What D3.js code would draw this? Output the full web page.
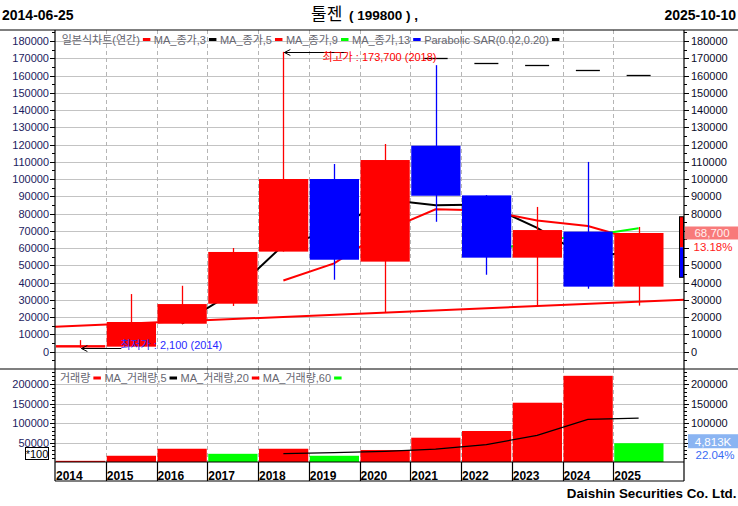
<!DOCTYPE html>
<html><head><meta charset="utf-8">
<script src="https://cdn.jsdelivr.net/npm/d3@7"></script>
<style>
html,body{margin:0;padding:0;background:#fff;}
svg{display:block;}
text{font-family:"Liberation Sans",Arial,"Noto Sans CJK KR",sans-serif;}
</style></head><body>
<svg id="c" width="738" height="506"></svg>
<script>
// ---------- data ----------
const years = [2014,2015,2016,2017,2018,2019,2020,2021,2022,2023,2024,2025];
const openP  = [2300, 2800, 16100, 27700, 57900, 100000, 52100, 119300, 90500, 54400, 69500, 37600];
const closeP = [3700, 17100, 27500, 57700, 100000, 53200, 111000, 90300, 54400, 70400, 37600, 68700];
const highP  = [6600, 33300, 38100, 60000, 173700, 108700, 120300, 166000, 90700, 83800, 109900, 72200];
const lowP   = [2100, 2800, 16000, 26400, 57900, 41600, 22500, 75200, 44500, 26400, 36400, 26600];
const ma3  = [null, null, 16100, 34100, 61700, 70300, 88100, 84800, 85200, 71700, 54100, 58900];
const ma5  = [null, null, null, null, 41200, 51100, 69900, 82400, 81800, 75900, 72700, 64300];
const ma9  = [null, null, null, null, null, null, null, null, 57200, 64600, 66900, 71500];
const sar  = [null, null, null, null, null, null, null, 170000, 167100, 165900, 163000, 160300];
const trendLine = [14400, 30000];           // long red line, left edge -> right edge
const sideBar = [78100, 60400, 43000];      // right-edge marker: red top, split, blue bottom
const volume = [3000, 16000, 34000, 21000, 34000, 16000, 30800, 62300, 79500, 152000, 221000, 48130];
const volUp  = [true, true, true, false, true, false, true, true, true, true, true, false];
const volMa5 = [null, null, null, null, 21600, 24200, 27200, 32800, 44500, 68100, 109100, 112600];
const priceTicks = d3.range(0, 190000, 10000);
const priceMinor = d3.range(-5000, 190000, 5000);
const volTicks = [50000, 100000, 150000, 200000];
const volMinor = d3.range(10000, 240000, 10000);
const priceLegend = ["일본식차트(연간)","MA_종가,3","MA_종가,5","MA_종가,9","MA_종가,13","Parabolic SAR(0.02,0.20)"];
const priceLegendColors = ["#ff0000","#000000","#ff0000","#00ff00","#0000ff","#000000"];
const volLegend = ["거래량","MA_거래량,5","MA_거래량,20","MA_거래량,60"];
const volLegendColors = ["#ff0000","#000000","#ff0000","#00ff00"];
const startDate = "2014-06-25", endDate = "2025-10-10";
const titleName = "툴젠", titleCode = " ( 199800 ) ,";
const highLabel = "최고가 : 173,700 (2018)", lowLabel = "최저가 : 2,100 (2014)";
const lastPrice = "68,700", lastPct = "13.18%", lastVol = "4,813K", volPct = "22.04%";
const volUnit = "*100", footer = "Daishin Securities Co. Ltd.";

// ---------- layout ----------
const svg = d3.select("#c");
const L = 55, R = 684, TOP = 30, MID = 369, VB = 462, XB = 481;
const x = d3.scaleBand().domain(years).range([55, 664]).paddingInner(0);
const bw = x.bandwidth();
const cx = (i) => x(years[i]) + bw / 2;
const yP = d3.scaleLinear().domain([0, 180000]).range([351.5, 41]);
const yV = d3.scaleLinear().domain([0, 200000]).range([462, 384]);

svg.append("defs").append("clipPath").attr("id","cp").append("rect")
  .attr("x", L).attr("y", TOP).attr("width", R - L).attr("height", MID - TOP);

const grid = svg.append("g");
priceTicks.forEach(v => grid.append("line").attr("x1", L).attr("x2", R)
  .attr("y1", Math.round(yP(v))+0.5).attr("y2", Math.round(yP(v))+0.5).attr("stroke", "#c3c3c3"));
volTicks.forEach(v => grid.append("line").attr("x1", L).attr("x2", R)
  .attr("y1", Math.round(yV(v))+0.5).attr("y2", Math.round(yV(v))+0.5).attr("stroke", "#c3c3c3"));
years.slice(1).forEach(yr => {
  const xx = Math.round(x(yr)) + 0.5;
  grid.append("line").attr("x1", xx).attr("x2", xx).attr("y1", TOP).attr("y2", MID)
    .attr("stroke", "#b5b5b5").attr("stroke-dasharray", "4,3");
  grid.append("line").attr("x1", xx).attr("x2", xx).attr("y1", MID).attr("y2", VB)
    .attr("stroke", "#b5b5b5").attr("stroke-dasharray", "4,3");
});

const plot = svg.append("g").attr("clip-path", "url(#cp)");
// trend line
plot.append("line").attr("x1", L).attr("x2", R).attr("y1", yP(trendLine[0])).attr("y2", yP(trendLine[1]))
  .attr("stroke", "#ff0000").attr("stroke-width", 2);
// MA lines
const maLine = d3.line().defined(d => d != null).x((d, i) => cx(i)).y(d => yP(d));
[[ma3, "#000000"], [ma5, "#ff0000"], [ma9, "#00ff00"]].forEach(([arr, col]) => {
  plot.append("path").attr("d", maLine(arr)).attr("fill", "none").attr("stroke", col).attr("stroke-width", 2);
});
// SAR dashes
sar.forEach((v, i) => {
  if (v == null) return;
  plot.append("line").attr("x1", cx(i) - 12).attr("x2", cx(i) + 12)
    .attr("y1", Math.round(yP(v)) + 0.5).attr("y2", Math.round(yP(v)) + 0.5).attr("stroke", "#000").attr("stroke-width", 1.3);
});
// candles
years.forEach((yr, i) => {
  const up = closeP[i] >= openP[i];
  const col = up ? "#ff0000" : "#0000ff";
  const xc = Math.round(cx(i)) + 0.5;
  plot.append("line").attr("x1", xc).attr("x2", xc).attr("y1", yP(highP[i])).attr("y2", yP(lowP[i]))
    .attr("stroke", col).attr("stroke-width", 1.3);
  const top = yP(Math.max(openP[i], closeP[i])), bot = yP(Math.min(openP[i], closeP[i]));
  plot.append("rect").attr("x", x(yr) + 1).attr("width", bw - 1.5)
    .attr("y", top).attr("height", Math.max(2, bot - top)).attr("fill", col);
});
// side marker
plot.append("rect").attr("x", 679.5).attr("width", 4).attr("y", yP(sideBar[0])).attr("height", yP(sideBar[1]) - yP(sideBar[0])).attr("fill", "#ff0000");
plot.append("rect").attr("x", 679.5).attr("width", 4).attr("y", yP(sideBar[1])).attr("height", yP(sideBar[2]) - yP(sideBar[1])).attr("fill", "#0000ff");
plot.append("rect").attr("x", 679.5).attr("width", 4).attr("y", yP(sideBar[0])).attr("height", yP(sideBar[2]) - yP(sideBar[0]))
  .attr("fill", "none").attr("stroke", "#000").attr("stroke-width", 1);

// annotations
function arrowAnn(i, val, len, label, color, tx, ty) {
  const y0 = Math.round(yP(val)) + 0.5, x0 = cx(i) + 1;
  plot.append("line").attr("x1", x0).attr("x2", x0 + len).attr("y1", y0).attr("y2", y0).attr("stroke", "#000");
  plot.append("path").attr("d", `M${x0 + 6},${y0 - 3} L${x0},${y0} L${x0 + 6},${y0 + 3}`).attr("fill", "none").attr("stroke", "#000");
  svg.append("text").attr("x", x0 + tx).attr("y", y0 + ty).attr("font-size", 11).attr("fill", color).text(label);
}
const iMax = highP.indexOf(d3.max(highP)), iMin = lowP.indexOf(d3.min(lowP));
arrowAnn(iMax, highP[iMax], 62, highLabel, "#ff0000", 38, 8);
arrowAnn(iMin, lowP[iMin], 40, lowLabel, "#2a2aff", 39, 0);

// volume bars
years.forEach((yr, i) => {
  svg.append("rect").attr("x", x(yr) + 1).attr("width", bw - 1.5)
    .attr("y", yV(volume[i])).attr("height", yV(0) - yV(volume[i]))
    .attr("fill", volUp[i] ? "#ff0000" : "#00ff00");
});
const vLine = d3.line().defined(d => d != null).x((d, i) => cx(i)).y(d => yV(d));
svg.append("path").attr("d", vLine(volMa5)).attr("fill", "none").attr("stroke", "#000").attr("stroke-width", 1.2);

// legends
function legend(labels, colors, x0, yc) {
  let xx = x0;
  labels.forEach((lab, k) => {
    const t = svg.append("text").attr("x", xx).attr("y", yc + 4).attr("font-size", 11).attr("fill", "#666670").text(lab);
    xx += t.node().getComputedTextLength() + 3;
    svg.append("rect").attr("x", xx).attr("y", yc - 1.5).attr("width", 7.5).attr("height", 3).attr("fill", colors[k]);
    xx += 11;
  });
}
legend(priceLegend, priceLegendColors, 61.7, 39.5);
legend(volLegend, volLegendColors, 60, 378);

// frame lines
const fr = svg.append("g").attr("stroke", "#000").attr("stroke-width", 1.2);
fr.append("line").attr("x1", 0).attr("x2", 738).attr("y1", TOP).attr("y2", TOP);
fr.append("line").attr("x1", 0).attr("x2", 738).attr("y1", MID).attr("y2", MID);
fr.append("line").attr("x1", L).attr("x2", R).attr("y1", VB).attr("y2", VB);
fr.append("line").attr("x1", L).attr("x2", R).attr("y1", XB).attr("y2", XB);
fr.append("line").attr("x1", L).attr("x2", L).attr("y1", TOP).attr("y2", XB);
fr.append("line").attr("x1", R).attr("x2", R).attr("y1", TOP).attr("y2", XB);
years.slice(1).forEach(yr => fr.append("line").attr("x1", Math.round(x(yr)) + 0.5).attr("x2", Math.round(x(yr)) + 0.5).attr("y1", VB).attr("y2", XB));

// right-side value box regions (labels under them are hidden, as in the reference)
const pBoxTop = yP(closeP[11]) - 6.5, pBoxBot = yP(closeP[11]) + 21;
const vBoxTop = yV(volume[11]) - 9, vBoxBot = yV(volume[11]) + 20;

// axes ticks & labels
const ax = svg.append("g");
priceMinor.forEach(v => {
  const yy = Math.round(yP(v)) + 0.5;
  const major = v % 10000 === 0 && v >= 0;
  ax.append("line").attr("x1", L - (major ? 5 : 3)).attr("x2", L).attr("y1", yy).attr("y2", yy).attr("stroke", "#000");
  ax.append("line").attr("x1", R).attr("x2", R + (major ? 5 : 3)).attr("y1", yy).attr("y2", yy).attr("stroke", "#000");
});
priceTicks.forEach(v => {
  ax.append("text").attr("x", 49).attr("y", yP(v) + 4).attr("text-anchor", "end").attr("font-size", 11).attr("fill", "#1c1c60").text(v);
  const yy = yP(v);
  if (yy + 5 > pBoxTop && yy - 5 < pBoxBot) return;
  ax.append("text").attr("x", 691).attr("y", yy + 4).attr("font-size", 11).attr("fill", "#0b0b28").text(v);
});
volMinor.forEach(v => {
  const yy = Math.round(yV(v)) + 0.5;
  const major = v % 50000 === 0;
  if (yy < MID) return;
  ax.append("line").attr("x1", L - (major ? 5 : 3)).attr("x2", L).attr("y1", yy).attr("y2", yy).attr("stroke", "#000");
  ax.append("line").attr("x1", R).attr("x2", R + (major ? 5 : 3)).attr("y1", yy).attr("y2", yy).attr("stroke", "#000");
});
volTicks.forEach(v => {
  ax.append("text").attr("x", 49).attr("y", yV(v) + 4).attr("text-anchor", "end").attr("font-size", 11).attr("fill", "#1c1c60").text(v);
  const yy = yV(v);
  if (yy + 5 > vBoxTop && yy - 5 < vBoxBot) return;
  ax.append("text").attr("x", 691).attr("y", yy + 4).attr("font-size", 11).attr("fill", "#0b0b28").text(v);
});
// *100 box
svg.append("rect").attr("x", 25.5).attr("y", 447.5).attr("width", 23).attr("height", 12).attr("fill", "#fff").attr("stroke", "#000");
svg.append("text").attr("x", 37).attr("y", 457.5).attr("text-anchor", "middle").attr("font-size", 11).attr("fill", "#000").text(volUnit);

// year labels
years.forEach(yr => svg.append("text").attr("x", x(yr) + 1).attr("y", 479.5).attr("font-size", 12).attr("font-weight", "bold").attr("fill", "#000").text(yr));

// right-side value boxes
svg.append("rect").attr("x", 685).attr("y", pBoxTop).attr("width", 53).attr("height", 13).attr("fill", "#f87a7a");
svg.append("text").attr("x", 712).attr("y", yP(closeP[11]) + 4).attr("text-anchor", "middle").attr("font-size", 11.5).attr("fill", "#fff0f0").text(lastPrice);
svg.append("text").attr("x", 713).attr("y", yP(closeP[11]) + 18.5).attr("text-anchor", "middle").attr("font-size", 11.5).attr("fill", "#ff2020").text(lastPct);
svg.append("rect").attr("x", 688).attr("y", vBoxTop).attr("width", 50).attr("height", 14).attr("fill", "#8ab4f2");
svg.append("text").attr("x", 713).attr("y", yV(volume[11]) + 2.5).attr("text-anchor", "middle").attr("font-size", 11.5).attr("fill", "#fff").text(lastVol);
svg.append("text").attr("x", 715).attr("y", yV(volume[11]) + 16).attr("text-anchor", "middle").attr("font-size", 11.5).attr("fill", "#3a6cf4").text(volPct);

// header
svg.append("text").attr("x", 2).attr("y", 20).attr("font-size", 14).attr("font-weight", "bold").text(startDate);
svg.append("text").attr("x", 736).attr("y", 20).attr("text-anchor", "end").attr("font-size", 14).attr("font-weight", "bold").text(endDate);
svg.append("text").attr("x", 311).attr("y", 20).attr("font-size", 17).attr("font-family", "Noto Sans CJK KR").text(titleName);
svg.append("text").attr("x", 349).attr("y", 20).attr("font-size", 13.5).attr("font-weight", "bold").text(titleCode);
// footer
svg.append("text").attr("x", 736.5).attr("y", 498).attr("text-anchor", "end").attr("font-size", 13.4).attr("font-weight", "bold").text(footer);
</script>
</body></html>
